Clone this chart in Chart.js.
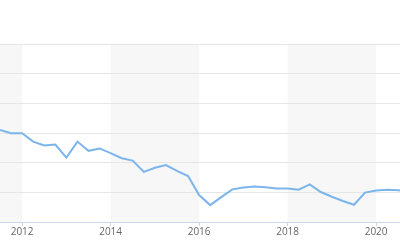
<!DOCTYPE html>
<html>
<head>
<meta charset="utf-8">
<script src="https://cdn.jsdelivr.net/npm/chart.js@4/dist/chart.umd.min.js"></script>
<style>
  html, body { margin: 0; padding: 0; background: #fff; }
  #wrap { width: 400px; height: 250px; }
</style>
</head>
<body>
<div id="wrap"><canvas id="myChart"></canvas></div>
<script>
// quarterly points (year fraction) and values
const quarters = [
  2011.5, 2011.75, 2012, 2012.25, 2012.5, 2012.75, 2013, 2013.25, 2013.5, 2013.75,
  2014, 2014.25, 2014.5, 2014.75, 2015, 2015.25, 2015.5, 2015.75,
  2016, 2016.25, 2016.5, 2016.75, 2017, 2017.25, 2017.5, 2017.75,
  2018, 2018.25, 2018.5, 2018.75, 2019, 2019.25, 2019.5, 2019.75,
  2020, 2020.25, 2020.5, 2020.75
];
const values = [
  31.0, 29.9, 29.9, 27.1, 25.8, 26.1, 21.7, 27.1, 24.0, 24.8,
  23.2, 21.5, 20.7, 16.9, 18.3, 19.2, 17.2, 15.5,
  9.1, 5.7, 8.4, 11.0, 11.6, 12.0, 11.7, 11.3,
  11.3, 10.9, 12.7, 10.1, 8.5, 7.1, 5.8, 9.9,
  10.6, 10.9, 10.7, 10.4
];
const tickYears = [2012, 2014, 2016, 2018, 2020];
const bandStarts = [2010, 2014, 2018];
const bandEnds = [2012, 2016, 2020];

// alternate shaded year bands behind the grid
const bandsPlugin = {
  id: "bands",
  beforeDraw(chart) {
    const { ctx, chartArea, scales } = chart;
    ctx.save();
    ctx.fillStyle = "#f7f7f7";
    bandStarts.forEach((start, i) => {
      const x1 = Math.max(scales.x.getPixelForValue(start), chartArea.left);
      const x2 = Math.min(scales.x.getPixelForValue(bandEnds[i]), chartArea.right);
      if (x2 > x1) ctx.fillRect(x1, chartArea.top, x2 - x1, chartArea.bottom - chartArea.top);
    });
    ctx.restore();
  },
};

const ctx = document.getElementById("myChart").getContext("2d");
new Chart(ctx, {
  type: "line",
  data: {
    datasets: [
      {
        data: quarters.map((q, i) => ({ x: q, y: values[i] })),
        borderColor: "#7cb5ec",
        borderWidth: 2,
        pointRadius: 0,
        tension: 0,
        fill: false,
      },
    ],
  },
  options: {
    responsive: true,
    maintainAspectRatio: false,
    animation: false,
    layout: { padding: { top: 44, left: 0, right: 0, bottom: 12 } },
    plugins: {
      legend: { display: false },
      tooltip: { enabled: false },
    },
    scales: {
      x: {
        type: "linear",
        min: 2011.5,
        max: 2020.54,
        afterBuildTicks: (axis) => {
          axis.ticks = tickYears.map((v) => ({ value: v }));
        },
        grid: {
          drawOnChartArea: false,
          drawTicks: true,
          tickLength: 4,
          color: "#ccd6eb",
        },
        border: { display: true, color: "#ccd6eb", width: 1 },
        ticks: {
          padding: 0,
          autoSkip: false,
          maxRotation: 0,
          color: "#666666",
          font: { family: "Open Sans", size: 10 },
          callback: (v) => String(v),
        },
      },
      y: {
        min: 0,
        max: 60,
        ticks: { display: false, stepSize: 10 },
        grid: { color: "#e6e6e6", drawTicks: false },
        border: { display: false },
      },
    },
  },
  plugins: [bandsPlugin],
});
</script>
</body>
</html>
